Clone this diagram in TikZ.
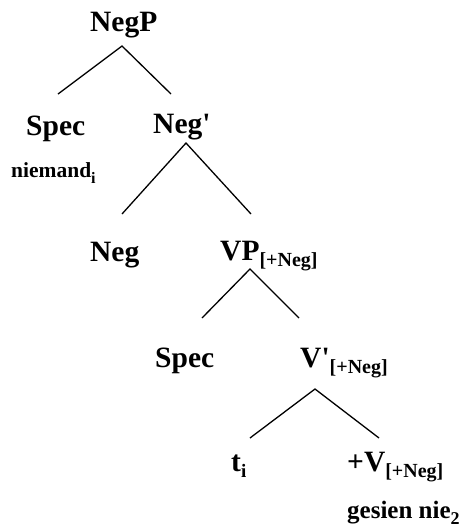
\documentclass[tikz,border=0pt]{standalone}
\usepackage{fontspec}
\setmainfont{Liberation Serif}
\newcommand\lsub[2][20]{\raisebox{-6.5pt}{\fontsize{#1}{#1}\selectfont #2}}
\tikzset{
  lab/.style={anchor=base west, inner sep=0pt, font=\bfseries\fontsize{29.5}{29.5}\selectfont},
  small/.style={anchor=base west, inner sep=0pt, font=\bfseries\fontsize{21.5}{21.5}\selectfont},
  gloss/.style={anchor=base west, inner sep=0pt, font=\bfseries\fontsize{25}{25}\selectfont},
  branch/.style={line width=1.3pt}
}
\begin{document}
\begin{tikzpicture}[x=1pt,y=1pt]
\useasboundingbox (0,0) rectangle (467,-530);
% labels
\node[lab] (negp) at (90,-31) {NegP};
\node[lab] (spec1) at (26,-135) {Spec};
\node[lab] (negbar) at (153,-133) {Neg\textquotesingle};
\node[small] (niemand) at (11,-177) {niemand\lsub[16]{i}};
\node[lab] (neg) at (90,-261) {Neg};
\node[lab] (vp) at (220,-260) {VP\lsub{[+Neg]}};
\node[lab] (spec2) at (155,-367) {Spec};
\node[lab] (vbar) at (300,-367) {V\textquotesingle\lsub{[+Neg]}};
\node[lab] (t) at (231,-471) {t\lsub[19]{i}};
\node[lab] (v) at (347,-471) {+V\lsub{[+Neg]}};
\node[gloss] (gesien) at (347,-518) {gesien nie\lsub[18]{2}};
% branch points
\coordinate (a1) at (122,-46);  \coordinate (l1) at (58,-94);   \coordinate (r1) at (171,-94);
\coordinate (a2) at (186,-143); \coordinate (l2) at (122,-214); \coordinate (r2) at (251,-214);
\coordinate (a3) at (250,-269); \coordinate (l3) at (202,-318); \coordinate (r3) at (299,-318);
\coordinate (a4) at (315,-389); \coordinate (l4) at (250,-438); \coordinate (r4) at (379,-438);
\draw[branch] (l1) -- (a1) -- (r1);
\draw[branch] (l2) -- (a2) -- (r2);
\draw[branch] (l3) -- (a3) -- (r3);
\draw[branch] (l4) -- (a4) -- (r4);
\end{tikzpicture}
\end{document}
